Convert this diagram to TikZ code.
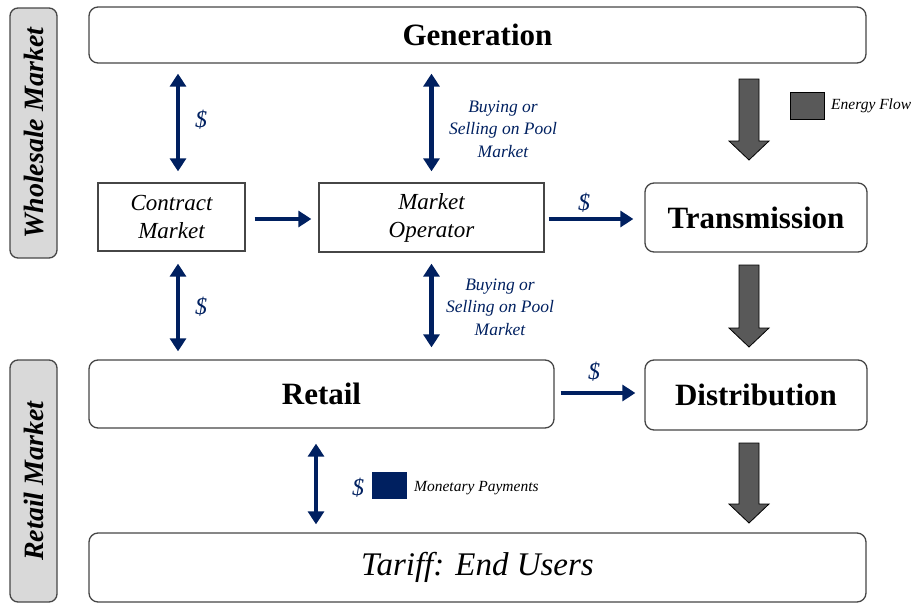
\documentclass[tikz,border=0pt]{standalone}
\usepackage{fontspec}
\setmainfont{Liberation Serif}
\usetikzlibrary{arrows.meta}
\definecolor{navy}{RGB}{0,32,96}
\definecolor{flowgray}{RGB}{89,89,89}
\definecolor{sidegray}{RGB}{217,217,217}
\definecolor{edgegray}{RGB}{70,70,70}

% downward block arrow for the energy flow: x, top y, tip y
\newcommand{\flowdown}[3]{%
  \draw[energy] (#1-10,#2) -- (#1+10,#2) -- (#1+10,#3-19) -- (#1+20,#3-19)
    -- (#1,#3) -- (#1-20,#3-19) -- (#1-10,#3-19) -- cycle;}

\begin{document}
\begin{tikzpicture}[x=1pt,y=-1pt,
  rbox/.style={draw=edgegray, line width=1.3pt, rounded corners=9pt, fill=white, inner sep=0pt},
  sbox/.style={draw=edgegray, line width=1.3pt, fill=white, inner sep=0pt, align=center,
    font=\fontsize{23}{28}\selectfont\itshape},
  sidebox/.style={draw=edgegray, line width=1.3pt, rounded corners=8pt, fill=sidegray,
    inner sep=0pt, rotate=90, font=\fontsize{28}{30}\selectfont\bfseries\itshape},
  bigbold/.style={font=\fontsize{31}{36}\selectfont\bfseries},
  money/.style={draw=navy, line width=4.5pt,
    {Triangle[width=16pt,length=13pt]}-{Triangle[width=16pt,length=13pt]}},
  pay/.style={draw=navy, line width=4.5pt, -{Triangle[width=16pt,length=13pt]}},
  dollar/.style={text=navy, font=\fontsize{24}{24}\selectfont\itshape},
  pool/.style={text=navy, align=center, font=\fontsize{17.5}{22.5}\selectfont\itshape},
  legend/.style={font=\fontsize{15.5}{18}\selectfont\itshape, anchor=west, inner sep=0pt},
  energy/.style={draw=black, line width=0.8pt, fill=flowgray},
]
\useasboundingbox (0,0) rectangle (919,605);

% market segments
\node[sidebox, minimum width=250pt, minimum height=47pt] (wholesale) at (33.5,133) {Wholesale Market};
\node[sidebox, minimum width=242pt, minimum height=47pt] (retailmkt) at (33.5,481) {Retail Market};

% main blocks
\node[rbox, bigbold, minimum width=777pt, minimum height=56pt] (gen) at (477.5,35) {Generation};
\node[sbox, minimum width=147pt, minimum height=68pt] (contract) at (171.5,217) {Contract\\Market};
\node[sbox, minimum width=225pt, minimum height=69pt] (mo) at (431.5,217.5) {Market\\Operator};
\node[rbox, bigbold, minimum width=222pt, minimum height=69pt] (trans) at (756,217.5) {Transmission};
\node[rbox, bigbold, minimum width=465pt, minimum height=68pt] (retail) at (321.5,394) {Retail};
\node[rbox, bigbold, minimum width=222pt, minimum height=70pt] (dist) at (756,395) {Distribution};
\node[rbox, minimum width=777pt, minimum height=69pt, font=\fontsize{33}{36}\selectfont\itshape]
  (tariff) at (477.5,567.5) {Tariff: End Users};

% monetary flows
\draw[money] ([xshift=6.5pt,yshift=-10pt]contract.north |- gen.south) -- ([xshift=6.5pt,yshift=11pt]contract.north);
\draw[money] ([yshift=-10pt]mo.north |- gen.south) -- ([yshift=11pt]mo.north);
\draw[pay] ([xshift=9pt,yshift=-2pt]contract.east) -- ([xshift=-7pt,yshift=-1.5pt]mo.west);
\draw[pay] ([xshift=4pt,yshift=-1.5pt]mo.east) -- ([xshift=-11pt,yshift=-1.5pt]trans.west);
\draw[money] ([xshift=6.5pt,yshift=-12pt]contract.south) -- ([xshift=6.5pt,yshift=8pt]contract.south |- retail.north);
\draw[money] ([yshift=-11pt]mo.south) -- ([yshift=12pt]mo.south |- retail.north);
\draw[pay] ([xshift=6pt,yshift=1pt]retail.east) -- ([xshift=-9pt,yshift=2pt]dist.west);
\draw[money] ([xshift=-5.5pt,yshift=-15pt]retail.south) -- ([xshift=-5.5pt,yshift=8pt]retail.south |- tariff.north);

% labels on the monetary flows
\node[dollar] (d1) at (201,120) {\$};
\node[dollar] (d2) at (201,307) {\$};
\node[dollar] (d3) at (584,203) {\$};
\node[dollar] (d4) at (594,372) {\$};
\node[dollar] (d5) at (358,488) {\$};
\node[pool] (pool1) at (503,129) {Buying or\\Selling on Pool\\Market};
\node[pool] (pool2) at (500,307) {Buying or\\Selling on Pool\\Market};

% energy flows
\flowdown{749}{79}{160}
\flowdown{749}{265}{347}
\flowdown{749}{443}{523}

% legends
\draw[energy] (790,92) rectangle (824,119);
\node[legend] (energylbl) at (831,105.5) {Energy Flow};
\fill[navy] (372,472) rectangle (407,499);
\node[legend] (moneylbl) at (414,488) {Monetary Payments};
\end{tikzpicture}
\end{document}
